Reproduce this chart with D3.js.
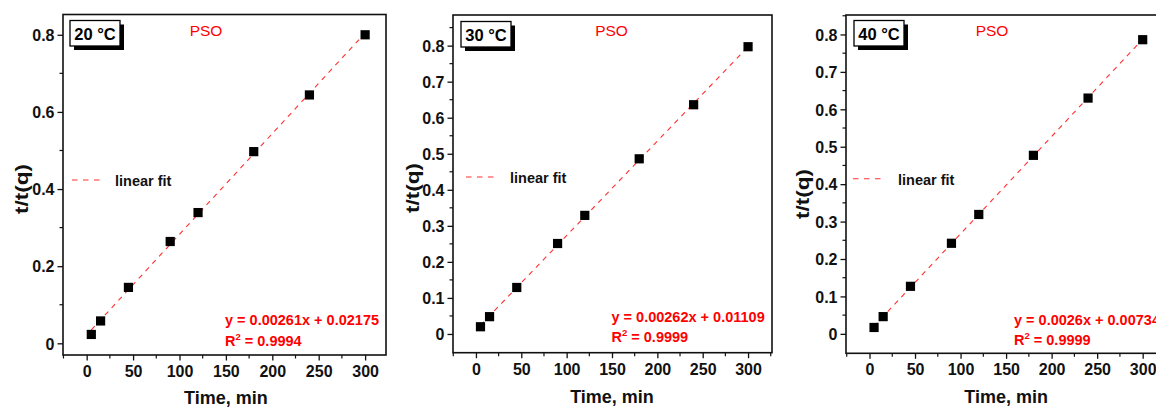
<!DOCTYPE html>
<html>
<head>
<meta charset="utf-8">
<script src="https://cdn.jsdelivr.net/npm/d3@7"></script>
<style>
  html, body { margin: 0; padding: 0; background: #fff; }
  svg { display: block; font-family: Arial, "Liberation Sans", sans-serif; }
</style>
</head>
<body>
<svg id="chart" width="1156" height="407"></svg>
<script>
// ---- data ----
const times = [5, 15, 45, 90, 120, 180, 240, 300];
const q20 = [0.023, 0.058, 0.145, 0.264, 0.339, 0.497, 0.644, 0.800];
const q30 = [0.020, 0.048, 0.129, 0.251, 0.329, 0.486, 0.636, 0.797];
const q40 = [0.017, 0.046, 0.127, 0.242, 0.319, 0.477, 0.630, 0.786];
const temps = ["20 °C", "30 °C", "40 °C"];
const slopes = [0.00261, 0.00262, 0.0026];
const intercepts = [0.02175, 0.01109, 0.00734];
const eqLabels = ["y = 0.00261x + 0.02175", "y = 0.00262x + 0.01109", "y = 0.0026x + 0.00734"];
const r2Labels = ["0.9994", "0.9999", "0.9999"];
const xTicks = [0, 50, 100, 150, 200, 250, 300];
const yTicks20 = [0, 0.2, 0.4, 0.6, 0.8];
const yTicks30 = [0, 0.1, 0.2, 0.3, 0.4, 0.5, 0.6, 0.7, 0.8];
const yTicks40 = [0, 0.1, 0.2, 0.3, 0.4, 0.5, 0.6, 0.7, 0.8];
const seriesList = [q20, q30, q40];
const yTickList = [yTicks20, yTicks30, yTicks40];

// ---- layout (positions only) ----
const panels = [
  { left: 63, right: 386, top: 14.5, bottom: 355, xDom: [-25.5, 322.5], yDom: [-0.0303, 0.8526], yMinorStep: 0.1,
    box: [70, 20.5], pso: 206, leg: [72, 100, 180, 115], eq: [225, 325, 345.5], yLab: [22, 189], xLabY: 403.5, xTickY: 376.5 },
  { left: 453, right: 772, top: 15, bottom: 352.7, xDom: [-25.3, 326.4], yDom: [-0.052, 0.885], yMinorStep: 0.05,
    box: [461, 21.5], pso: 611.5, leg: [466, 498, 177, 510], eq: [611.5, 321.7, 341.7], yLab: [413, 188], xLabY: 402.5, xTickY: 375 },
  { left: 846, right: 1165, top: 15, bottom: 353.3, xDom: [-25.8, 324.5], yDom: [-0.052, 0.852], yMinorStep: 0.05,
    box: [854, 20.5], pso: 992, leg: [853, 886, 178.7, 898], eq: [1014, 324.5, 344.5], yLab: [803, 194], xLabY: 403, xTickY: 375 }
];

const svg = d3.select("#chart");
const red = "#ff0000";
const fmtY = d => d === 0 ? "0" : d3.format(".1f")(d);

panels.forEach((p, i) => {
  const g = svg.append("g");
  const x = d3.scaleLinear().domain(p.xDom).range([p.left, p.right]);
  const y = d3.scaleLinear().domain(p.yDom).range([p.bottom, p.top]);
  const data = times.map((t, k) => ({ t, v: seriesList[i][k] }));

  // minor ticks
  const xMinor = d3.range(-25, 326, 25).filter(v => v >= p.xDom[0] && v <= p.xDom[1] && v % 50 !== 0);
  g.selectAll(".xminor").data(xMinor).join("line")
    .attr("x1", d => x(d)).attr("x2", d => x(d))
    .attr("y1", p.bottom).attr("y2", p.bottom + 3.5)
    .attr("stroke", "#111").attr("stroke-width", 1.2);
  const yMinor = d3.range(0, 0.9, p.yMinorStep).map(v => +v.toFixed(3))
    .filter(v => v <= p.yDom[1] && !yTickList[i].some(t => Math.abs(t - v) < 1e-6));
  g.selectAll(".yminor").data(yMinor).join("line")
    .attr("x1", p.left).attr("x2", p.left - 3.5)
    .attr("y1", d => y(d)).attr("y2", d => y(d))
    .attr("stroke", "#111").attr("stroke-width", 1.2);

  // axes
  const xAxis = d3.axisBottom(x).tickValues(xTicks).tickSize(5.5).tickPadding(4).tickFormat(d3.format("d"));
  const gx = g.append("g").attr("transform", `translate(0,${p.bottom})`).call(xAxis);
  gx.select(".domain").remove();
  gx.selectAll(".tick line").attr("stroke", "#111").attr("stroke-width", 1.3);
  gx.selectAll(".tick text").attr("fill", "#111").attr("font-size", 16).attr("font-weight", "bold")
    .attr("font-family", "Arial, 'Liberation Sans', sans-serif")
    .attr("dy", null).attr("y", p.xTickY - p.bottom);

  const yAxis = d3.axisLeft(y).tickValues(yTickList[i]).tickSize(5.5).tickPadding(3).tickFormat(fmtY);
  const gy = g.append("g").attr("transform", `translate(${p.left},0)`).call(yAxis);
  gy.select(".domain").remove();
  gy.selectAll(".tick line").attr("stroke", "#111").attr("stroke-width", 1.3);
  gy.selectAll(".tick text").attr("fill", "#111").attr("font-size", 16).attr("font-weight", "bold")
    .attr("font-family", "Arial, 'Liberation Sans', sans-serif").attr("dy", "0.36em");

  // frame
  g.append("rect").attr("x", p.left).attr("y", p.top)
    .attr("width", p.right - p.left).attr("height", p.bottom - p.top)
    .attr("fill", "none").attr("stroke", "#111").attr("stroke-width", 1.6);

  // fit line
  const fit = [times[0], times[times.length - 1]].map(t => ({ t, v: slopes[i] * t + intercepts[i] }));
  g.append("path").datum(fit)
    .attr("d", d3.line().x(d => x(d.t)).y(d => y(d.v)))
    .attr("stroke", "#ff3030").attr("stroke-width", 1.1).attr("stroke-dasharray", "5,5").attr("fill", "none");

  // markers
  g.selectAll(".pt").data(data).join("rect")
    .attr("x", d => x(d.t) - 4.6).attr("y", d => y(d.v) - 4.6)
    .attr("width", 9.2).attr("height", 9.2).attr("fill", "#000");

  // temperature box with shadow
  const bw = 50, bh = 25.5;
  g.append("rect").attr("x", p.box[0] + 4).attr("y", p.box[1] + 4).attr("width", bw).attr("height", bh).attr("fill", "#000");
  g.append("rect").attr("x", p.box[0]).attr("y", p.box[1]).attr("width", bw).attr("height", bh)
    .attr("fill", "#fff").attr("stroke", "#000").attr("stroke-width", 1.3);
  g.append("text").attr("x", p.box[0] + bw / 2).attr("y", p.box[1] + 19).attr("text-anchor", "middle")
    .attr("font-size", 16.5).attr("font-weight", "bold").attr("fill", "#000").text(temps[i]);

  // PSO
  g.append("text").attr("x", p.pso).attr("y", 36).attr("text-anchor", "middle")
    .attr("font-size", 15.5).attr("fill", red).text("PSO");

  // legend
  g.append("line").attr("x1", p.leg[0]).attr("x2", p.leg[1]).attr("y1", p.leg[2]).attr("y2", p.leg[2])
    .attr("stroke", "#ff3030").attr("stroke-width", 1.1).attr("stroke-dasharray", "5.5,5.5");
  g.append("text").attr("x", p.leg[3]).attr("y", p.leg[2] + 6).attr("font-size", 14.5).attr("font-weight", "bold")
    .attr("fill", "#111").text("linear fit");

  // equation
  g.append("text").attr("x", p.eq[0]).attr("y", p.eq[1]).attr("font-size", 14.5).attr("font-weight", "bold")
    .attr("fill", red).text(eqLabels[i]);
  const r2 = g.append("text").attr("x", p.eq[0]).attr("y", p.eq[2]).attr("font-size", 14.5).attr("font-weight", "bold")
    .attr("fill", red);
  r2.append("tspan").text("R");
  r2.append("tspan").attr("font-size", 9.5).attr("dy", -6).text("2");
  r2.append("tspan").attr("dy", 6).text(" = " + r2Labels[i]);

  // axis titles
  g.append("text").attr("transform", `translate(${p.yLab[0] + 6},${p.yLab[1]}) rotate(-90)`)
    .attr("text-anchor", "middle").attr("font-size", 18).attr("font-weight", "bold").attr("fill", "#111")
    .attr("textLength", 50).attr("lengthAdjust", "spacingAndGlyphs").text("t/t(q)");
  g.append("text").attr("x", (x(0) + x(300)) / 2).attr("y", p.xLabY)
    .attr("text-anchor", "middle").attr("font-size", 18).attr("font-weight", "bold").attr("fill", "#111")
    .text("Time, min");
});
</script>
</body>
</html>
